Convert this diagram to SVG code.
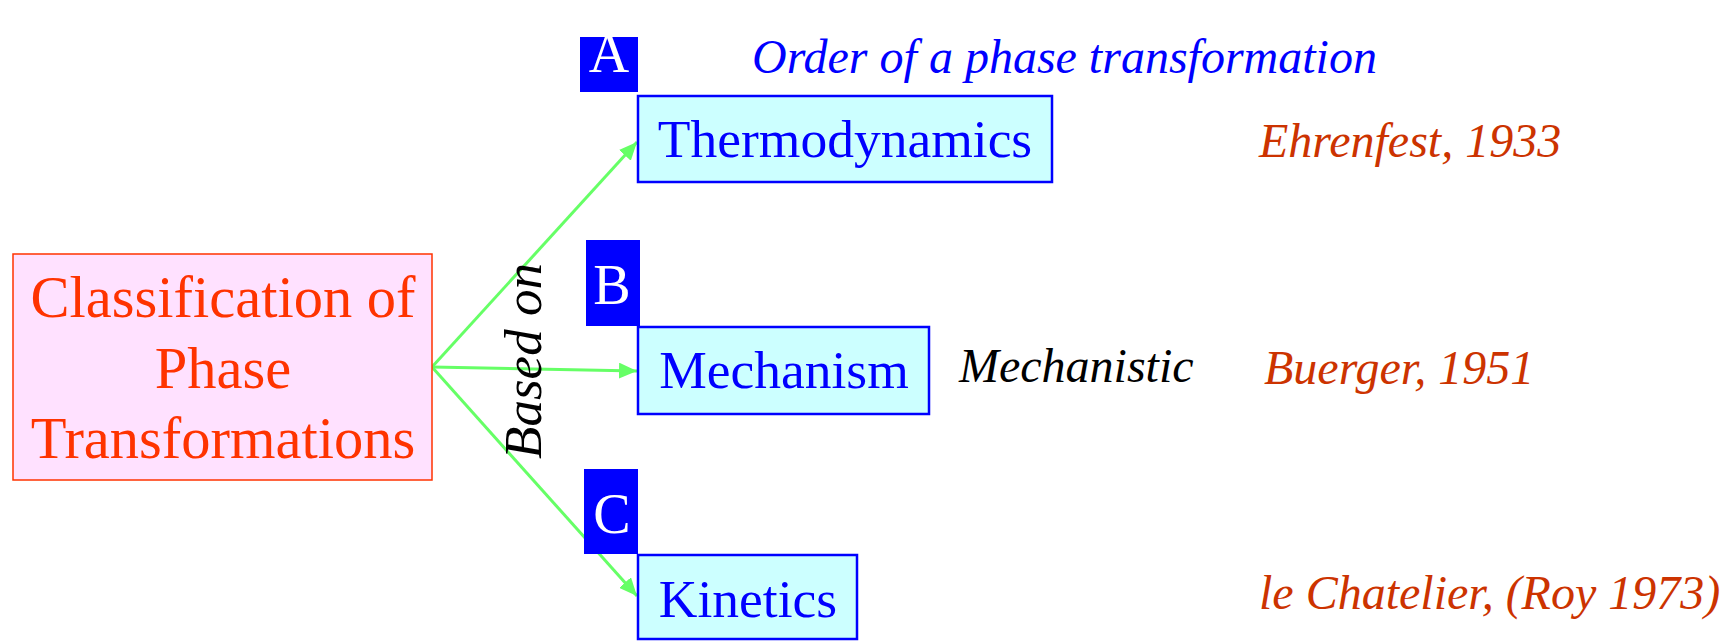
<svg xmlns="http://www.w3.org/2000/svg" width="1726" height="641" viewBox="0 0 1726 641">
  <style>
    .serif { font-family: "Liberation Serif", "Times New Roman", serif; }
    .main { fill: #FFE1FF; stroke: #FF3300; stroke-width: 1.5; }
    .mainText { fill: #FF3300; font-size: 58.5px; text-anchor: middle; }
    .box { fill: #CCFFFF; stroke: #0000FF; stroke-width: 2.5; }
    .boxText { fill: #0000FF; font-size: 53.5px; text-anchor: middle; }
    .tag { fill: #0000FF; }
    .tagText { fill: #FFFFFF; font-size: 56px; text-anchor: middle; }
    .note { font-size: 48px; font-style: italic; }
    .ref { fill: #CC3300; }
    .conn { stroke: #66FF66; stroke-width: 3; fill: none; marker-end: url(#arrow); }
  </style>
  <defs>
    <marker id="arrow" markerUnits="userSpaceOnUse" markerWidth="20" markerHeight="16" refX="18" refY="8" orient="auto">
      <path d="M0,0 L18,8 L0,16 Z" fill="#66FF66"/>
    </marker>
  </defs>

  <g id="connectors">
    <line class="conn" x1="432" y1="367" x2="637" y2="142"/>
    <line class="conn" x1="432" y1="367" x2="637" y2="371"/>
    <line class="conn" x1="432" y1="367" x2="637" y2="596"/>
  </g>

  <g id="classification">
    <rect class="main" x="13" y="254" width="419" height="226"/>
    <text class="serif mainText" x="223" y="317">Classification of</text>
    <text class="serif mainText" x="223" y="388">Phase</text>
    <text class="serif mainText" x="223" y="458">Transformations</text>
  </g>

  <g id="based-on">
    <text class="serif" x="0" y="0" font-size="53" font-style="italic" fill="#000000" text-anchor="middle" transform="translate(541,361) rotate(-90)">Based on</text>
  </g>

  <g id="tag-a">
    <rect class="tag" x="580" y="37" width="58" height="55"/>
    <text class="serif tagText" x="609" y="72" font-size="48">A</text>
  </g>
  <g id="order-label">
    <text class="serif note" x="752" y="73" fill="#0000FF">Order of a phase transformation</text>
  </g>
  <g id="thermodynamics">
    <rect class="box" x="638" y="96" width="414" height="86"/>
    <text class="serif boxText" x="845" y="157">Thermodynamics</text>
  </g>
  <g id="ehrenfest">
    <text class="serif note ref" x="1259" y="157">Ehrenfest, 1933</text>
  </g>

  <g id="tag-b">
    <rect class="tag" x="586" y="240" width="54" height="86"/>
    <text class="serif tagText" x="612" y="304">B</text>
  </g>
  <g id="mechanism">
    <rect class="box" x="638" y="327" width="291" height="87"/>
    <text class="serif boxText" x="784" y="388">Mechanism</text>
  </g>
  <g id="mechanistic">
    <text class="serif note" x="959" y="382" fill="#000000">Mechanistic</text>
  </g>
  <g id="buerger">
    <text class="serif note ref" x="1264" y="384">Buerger, 1951</text>
  </g>

  <g id="tag-c">
    <rect class="tag" x="584" y="469" width="54" height="85"/>
    <text class="serif tagText" x="612" y="533">C</text>
  </g>
  <g id="kinetics">
    <rect class="box" x="638" y="555" width="219" height="84"/>
    <text class="serif boxText" x="748" y="617">Kinetics</text>
  </g>
  <g id="le-chatelier">
    <text class="serif note ref" x="1259" y="609">le Chatelier, (Roy 1973)</text>
  </g>
</svg>
